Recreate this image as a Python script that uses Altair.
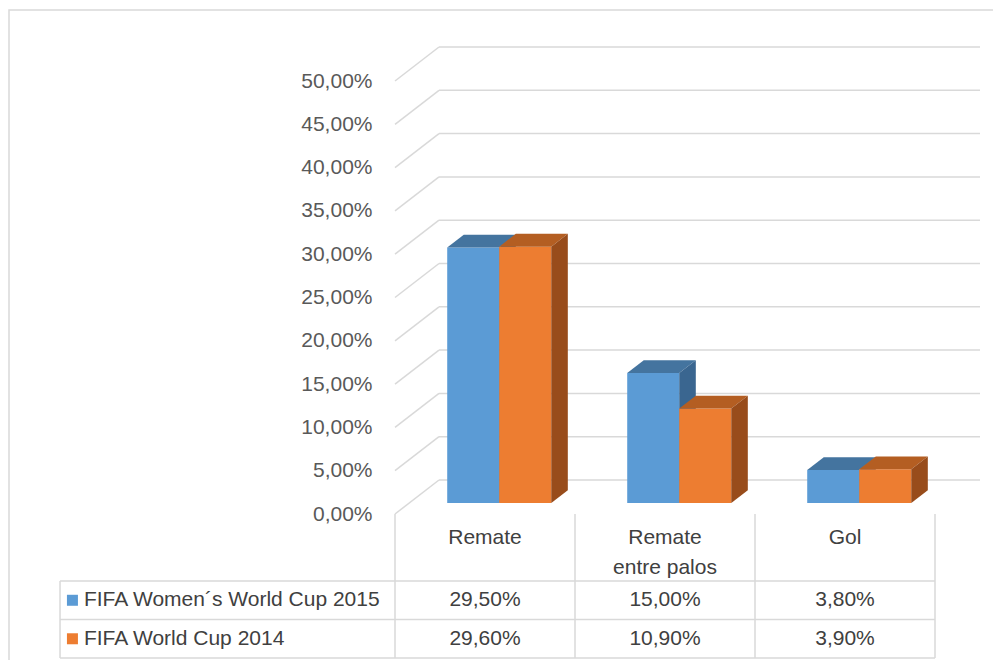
import altair as alt
import pandas as pd

# ---------------- data ----------------
categories = ["Remate", "Remate\nentre palos", "Gol"]
series_names = ["FIFA Women´s World Cup 2015", "FIFA World Cup 2014"]
women_2015 = [29.5, 15.0, 3.8]
world_2014 = [29.6, 10.9, 3.9]
series_values = [women_2015, world_2014]
tick_values = [0, 5, 10, 15, 20, 25, 30, 35, 40, 45, 50]

# ---------------- styles ----------------
front_colors = ["#5B9BD5", "#ED7D31"]
top_colors = ["#44749F", "#B45E22"]
side_colors = ["#3A6690", "#984C1B"]
GRID = "#D9D9D9"
FONT = "Liberation Sans"
FS = 21

# ---------------- geometry (scale units) ----------------
X_MAX = 3.25          # category units
Y_MAX = 50            # percent
DX = 44 / 180         # depth offset of back wall (x)
DY = 34 / 8.66        # depth offset of back wall (y, in %)
F1, F2 = 0.3235, 0.70 # bar front / back depth fractions
GROUP_START, BAR_W = 0.211, 0.289
TABLE_LEFT = -1.861
HEADER_BOTTOM = -7.74
ROW_H = 4.445
CAT_LINE1, CAT_LINE_H = -2.77, 3.46
SQUARE_X, LABEL_X = -1.792, -1.728

xs = alt.Scale(domain=[0, X_MAX], nice=False, zero=False)
ys = alt.Scale(domain=[0, Y_MAX], nice=False, zero=False)
yaxis = alt.Axis(values=tick_values, domain=False, ticks=False, grid=False,
                 labelPadding=23, labelFont=FONT, labelFontSize=FS,
                 labelColor="#595959", title=None,
                 labelExpr="replace(format(datum.value, '.2f'), '.', ',') + '%'")


def X(f, **kw):
    return alt.X(f, scale=xs, axis=None, **kw)


def Y(f, **kw):
    return alt.Y(f, scale=ys, axis=yaxis, **kw)


layers = []

# frame (decoration)
frame = alt.Chart(pd.DataFrame({"a": [0]})).mark_rect(
    fillOpacity=0, stroke=GRID, strokeWidth=1.5
).encode(x=alt.value(-386), x2=alt.value(800), y=alt.value(-71), y2=alt.value(800))
layers.append(frame)

# walls: diagonals and back gridlines
wall = pd.DataFrame({
    "x": [0.0] * len(tick_values),
    "x2": [DX] * len(tick_values),
    "y": [float(v) for v in tick_values],
    "y2": [v + DY for v in tick_values],
    "xe": [X_MAX] * len(tick_values),
})
layers.append(alt.Chart(wall).mark_rule(color=GRID, strokeWidth=1.5).encode(
    x=X("x:Q"), x2="x2:Q", y=Y("y:Q"), y2="y2:Q"))
layers.append(alt.Chart(wall).mark_rule(color=GRID, strokeWidth=1.5).encode(
    x=X("x2:Q"), x2="xe:Q", y=Y("y2:Q")))

# 3D bars, series by series (painter's order)
for i, vals in enumerate(series_values):
    fr, tp, sd = [], [], []
    for c, v in enumerate(vals):
        xl = c + GROUP_START + i * BAR_W
        xr = xl + BAR_W
        bid = f"{i}-{c}"
        fr.append({"x": xl + F1 * DX, "x2": xr + F1 * DX, "y": F1 * DY, "y2": v + F1 * DY})
        for f in (F1, F2):
            tp.append({"id": bid, "y": v + f * DY, "x": xl + f * DX, "x2": xr + f * DX})
            sd.append({"id": bid, "x": xr + f * DX, "y": f * DY, "y2": v + f * DY})
    layers.append(alt.Chart(pd.DataFrame(fr)).mark_rect(color=front_colors[i]).encode(
        x=X("x:Q"), x2="x2:Q", y=Y("y:Q"), y2="y2:Q"))
    layers.append(alt.Chart(pd.DataFrame(tp)).mark_area(orient="horizontal", color=top_colors[i]).encode(
        x=X("x:Q", stack=None), x2="x2:Q", y=Y("y:Q"), detail="id:N"))
    layers.append(alt.Chart(pd.DataFrame(sd)).mark_area(color=side_colors[i]).encode(
        x=X("x:Q"), y=Y("y:Q", stack=None), y2="y2:Q", detail="id:N"))

# data table grid
n_rows = len(series_names)
table_bottom = HEADER_BOTTOM - n_rows * ROW_H
hlines = pd.DataFrame({
    "x": [TABLE_LEFT] * (n_rows + 1),
    "x2": [float(len(categories))] * (n_rows + 1),
    "y": [HEADER_BOTTOM - k * ROW_H for k in range(n_rows + 1)],
})
layers.append(alt.Chart(hlines).mark_rule(color=GRID, strokeWidth=1.5).encode(
    x=X("x:Q"), x2="x2:Q", y=Y("y:Q")))
vlines = pd.DataFrame({
    "x": [float(k) for k in range(len(categories) + 1)] + [TABLE_LEFT],
    "y": [0.0] * (len(categories) + 1) + [HEADER_BOTTOM],
    "y2": [table_bottom] * (len(categories) + 2),
})
layers.append(alt.Chart(vlines).mark_rule(color=GRID, strokeWidth=1.5).encode(
    x=X("x:Q"), y=Y("y:Q"), y2="y2:Q"))

# legend keys in table
keys = pd.DataFrame({
    "x": [SQUARE_X] * n_rows,
    "y": [HEADER_BOTTOM - (k + 0.5) * ROW_H for k in range(n_rows)],
    "s": series_names,
})
layers.append(alt.Chart(keys).mark_square(size=121, opacity=1).encode(
    x=X("x:Q"), y=Y("y:Q"),
    color=alt.Color("s:N", scale=alt.Scale(domain=series_names, range=front_colors), legend=None)))

# row labels
rowlab = pd.DataFrame({
    "x": [LABEL_X] * n_rows,
    "y": [HEADER_BOTTOM - (k + 0.5) * ROW_H for k in range(n_rows)],
    "t": series_names,
})
layers.append(alt.Chart(rowlab).mark_text(align="left", baseline="middle", font=FONT,
                                          fontSize=FS, color="#404040").encode(
    x=X("x:Q"), y=Y("y:Q"), text="t:N"))

# values
cells = []
for i, vals in enumerate(series_values):
    for c, v in enumerate(vals):
        cells.append({"x": c + 0.5, "y": HEADER_BOTTOM - (i + 0.5) * ROW_H,
                      "t": f"{v:.2f}".replace(".", ",") + "%"})
layers.append(alt.Chart(pd.DataFrame(cells)).mark_text(align="center", baseline="middle", font=FONT,
                                                       fontSize=FS, color="#404040").encode(
    x=X("x:Q"), y=Y("y:Q"), text="t:N"))

# category labels
catl = []
for c, name in enumerate(categories):
    for j, line in enumerate(name.split("\n")):
        catl.append({"x": c + 0.5, "y": CAT_LINE1 - j * CAT_LINE_H, "t": line})
layers.append(alt.Chart(pd.DataFrame(catl)).mark_text(align="center", baseline="middle", font=FONT,
                                                      fontSize=FS, color="#404040").encode(
    x=X("x:Q"), y=Y("y:Q"), text="t:N"))

chart = alt.layer(*layers).properties(
    width=585, height=433,
    background="white",
    autosize=alt.AutoSizeParams(type="none"),
    padding={"left": 387, "top": 73, "right": 13, "bottom": 146},
).configure_view(stroke=None)

chart.save("out.html", embed_options={"renderer": "svg", "actions": False})
